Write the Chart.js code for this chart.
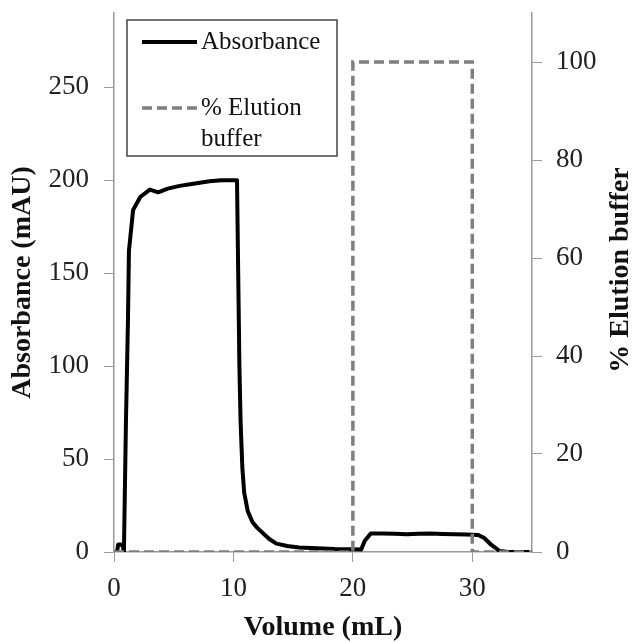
<!DOCTYPE html>
<html>
<head>
<meta charset="utf-8">
<script src="https://cdn.jsdelivr.net/npm/chart.js@4.4.0/dist/chart.umd.min.js"></script>
<style>
  html, body { margin: 0; padding: 0; background: #fff; }
  #wrap { width: 639px; height: 642px; }
</style>
</head>
<body>
<div id="wrap"><canvas id="chart" width="639" height="642"></canvas></div>
<script>
// Absorbance trace (mL, mAU)
const absVolume = [0, 0.25, 0.35, 0.6, 0.75, 0.83, 1.0, 1.17, 1.25, 1.6, 2.2, 3.0, 3.7, 4.5, 5.5, 6.5, 8.0, 9.0, 10.3,
  10.4, 10.5, 10.6, 10.75, 10.9, 11.2, 11.6, 12.0, 12.5, 13.0, 13.6, 14.5, 15.5, 17.0, 18.5, 20.0, 20.7,
  21.0, 21.5, 22.5, 23.5, 24.5, 25.5, 26.5, 27.5, 28.5, 29.5, 30.5, 31.0, 31.6, 32.3, 33.0, 34.8]
const absorbance = [0, 0, 4, 4, 3, 0, 70, 125, 162, 184, 191, 195, 193.5, 195.5, 197, 198, 199.5, 200, 200,
  150, 100, 70, 45, 32, 22, 16, 13, 10, 7, 4.5, 3.2, 2.4, 2.0, 1.6, 1.5, 1.4,
  6, 10, 10, 9.8, 9.6, 9.8, 10, 9.7, 9.5, 9.4, 9.2, 7.5, 3.8, 0.5, 0, 0]

// Elution buffer step (mL, %)
const elutionVolume = [0, 20, 20, 30, 30, 35]
const elutionPercent = [0, 0, 100, 100, 0, 0]

const xTicks = [0, 10, 20, 30]

const serif = "'Liberation Serif', 'Times New Roman', serif"
const axisGray = '#9a9a9a'

const toPoints = (xs, ys) => xs.map((x, i) => ({ x, y: ys[i] }))

// fixed box sizes so the plot area lands where the original one is
const fixBox = (w, h) => s => {
  if (w) s.width = w
  if (h) s.height = h
  s.paddingTop = 0
  s.paddingBottom = 0
  s.paddingLeft = 0
  s.paddingRight = 0
}

const boxLegend = {
  id: 'boxLegend',
  afterDraw(chart) {
    const ctx = chart.ctx
    ctx.save()
    ctx.fillStyle = '#fff'
    ctx.fillRect(127, 20, 210, 136)
    ctx.strokeStyle = '#444'
    ctx.lineWidth = 1.5
    ctx.strokeRect(127, 20, 210, 136)

    ctx.lineWidth = 4
    ctx.strokeStyle = '#000'
    ctx.beginPath(); ctx.moveTo(142, 42); ctx.lineTo(197, 42); ctx.stroke()
    ctx.lineWidth = 3.5
    ctx.strokeStyle = '#7f7f7f'
    ctx.setLineDash([10, 5])
    ctx.beginPath(); ctx.moveTo(142, 108); ctx.lineTo(197, 108); ctx.stroke()
    ctx.setLineDash([])

    ctx.fillStyle = '#111'
    ctx.font = `25px ${serif}`
    ctx.textBaseline = 'middle'
    ctx.textAlign = 'left'
    ctx.fillText('Absorbance', 201, 42)
    ctx.fillText('% Elution', 201, 108)
    ctx.fillText('buffer', 201, 139)

    // right axis title, reading bottom to top
    ctx.translate(621, 270)
    ctx.rotate(-Math.PI / 2)
    ctx.textAlign = 'center'
    ctx.font = `bold 28px ${serif}`
    ctx.fillStyle = '#111'
    ctx.fillText('% Elution buffer', 0, 0)
    ctx.restore()
  }
}

new Chart(document.getElementById('chart'), {
  type: 'line',
  data: {
    datasets: [
      {
        label: '% Elution buffer',
        data: toPoints(elutionVolume, elutionPercent),
        yAxisID: 'y1',
        borderColor: '#7f7f7f',
        borderWidth: 3.5,
        borderDash: [10, 5],
        pointRadius: 0,
        tension: 0,
        order: 0
      },
      {
        label: 'Absorbance',
        data: toPoints(absVolume, absorbance),
        yAxisID: 'y',
        borderColor: '#000',
        borderWidth: 4,
        borderJoinStyle: 'round',
        pointRadius: 0,
        tension: 0,
        order: 1
      }
    ]
  },
  options: {
    responsive: false,
    animation: false,
    layout: { padding: { top: 13, left: 0, right: 0, bottom: 0 } },
    plugins: { legend: { display: false }, tooltip: { enabled: false } },
    scales: {
      x: {
        type: 'linear',
        min: 0,
        max: 35,
        afterBuildTicks: s => { s.ticks = xTicks.map(v => ({ value: v })) },
        afterFit: fixBox(0, 90),
        grid: { drawOnChartArea: false, tickLength: 10, color: axisGray },
        border: { color: axisGray, width: 1.5 },
        ticks: { padding: 11, color: '#222', font: { family: serif, size: 27 }, maxRotation: 0 },
        title: {
          display: true,
          text: 'Volume (mL)',
          color: '#111',
          font: { family: serif, size: 28, weight: 'bold', lineHeight: 1 },
          padding: { top: 0, bottom: 0 }
        }
      },
      y: {
        position: 'left',
        min: 0,
        max: 290,
        afterBuildTicks: s => { s.ticks = s.ticks.filter(t => t.value % 50 === 0) },
        afterFit: fixBox(114, 0),
        grid: { drawOnChartArea: false, tickLength: 10, color: axisGray },
        border: { color: axisGray, width: 1.5 },
        ticks: { stepSize: 50, padding: 15, color: '#222', font: { family: serif, size: 27 } },
        title: {
          display: true,
          text: 'Absorbance (mAU)',
          color: '#111',
          font: { family: serif, size: 28, weight: 'bold', lineHeight: 1 },
          padding: { top: 9, bottom: 0 }
        }
      },
      y1: {
        position: 'right',
        min: 0,
        max: 110,
        afterBuildTicks: s => { s.ticks = s.ticks.filter(t => t.value % 20 === 0) },
        afterFit: fixBox(107, 0),
        grid: { drawOnChartArea: false, tickLength: 10, color: axisGray },
        border: { color: axisGray, width: 1.5 },
        ticks: { stepSize: 20, padding: 14, color: '#222', font: { family: serif, size: 27 } }
      }
    }
  },
  plugins: [boxLegend]
})
</script>
</body>
</html>
